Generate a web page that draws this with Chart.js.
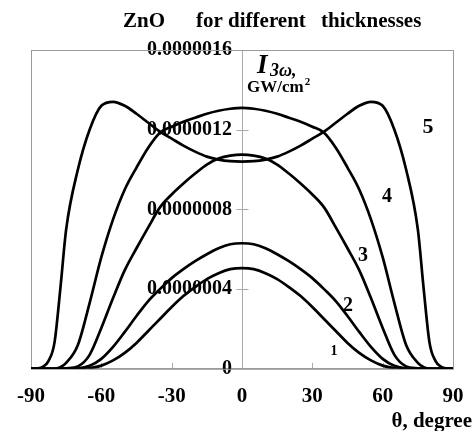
<!DOCTYPE html>
<html>
<head>
<meta charset="utf-8">
<script src="https://cdn.jsdelivr.net/npm/chart.js@4"></script>
<style>
  html, body { margin: 0; padding: 0; background: #fff; }
  #wrap { width: 475px; height: 431px; }
</style>
</head>
<body>
<div id="wrap"><canvas id="thgChart"></canvas></div>
<script>
/* ─── DATA (I3ω in units of 1e-7 GW/cm²) ───────────────────── */
const THETA = [-90, -87.5, -85, -82.5, -80, -77.5, -75, -70, -65, -60, -55, -50, -45, -40, -35, -30, -25, -20, -15, -10, -5,
  0, 5, 10, 15, 20, 25, 30, 35, 40, 45, 50, 55, 60, 65, 70, 75, 77.5, 80, 82.5, 85, 87.5, 90];

const CURVE_1 = [0, 0, 0, 0, 0, 0, 0, 0.005, 0.04, 0.16, 0.42, 0.8, 1.3, 1.9, 2.5, 3.1, 3.65, 4.1, 4.5, 4.8, 5.0,
  5.05, 5.0, 4.8, 4.5, 4.1, 3.65, 3.1, 2.5, 1.9, 1.3, 0.8, 0.42, 0.16, 0.04, 0.005, 0, 0, 0, 0, 0, 0, 0];
const CURVE_2 = [0, 0, 0, 0, 0, 0, 0, 0.02, 0.15, 0.5, 1.1, 1.85, 2.65, 3.4, 4.0, 4.55, 5.0, 5.4, 5.75, 6.05, 6.25,
  6.3, 6.25, 6.05, 5.75, 5.4, 5.0, 4.55, 4.0, 3.4, 2.65, 1.85, 1.1, 0.5, 0.15, 0.02, 0, 0, 0, 0, 0, 0, 0];
const CURVE_3 = [0, 0, 0, 0, 0, 0, 0.02, 0.12, 0.7, 2.05, 3.55, 4.95, 6.05, 7.1, 8.1, 8.75, 9.3, 9.8, 10.25, 10.55, 10.7,
  10.75, 10.7, 10.55, 10.25, 9.8, 9.3, 8.75, 8.1, 7.1, 6.05, 4.95, 3.55, 2.05, 0.7, 0.12, 0.02, 0, 0, 0, 0, 0, 0];
const CURVE_4 = [0, 0, 0, 0, 0, 0.08, 0.3, 1.2, 3.3, 5.6, 7.5, 9.0, 10.1, 11.1, 11.85, 12.15, 12.4, 12.6, 12.8, 12.95, 13.05,
  13.1, 13.05, 12.95, 12.8, 12.6, 12.4, 12.15, 11.85, 11.1, 10.1, 9.0, 7.5, 5.6, 3.3, 1.2, 0.3, 0.08, 0, 0, 0, 0, 0];
const CURVE_5 = [0, 0.02, 0.1, 0.4, 1.3, 4.0, 7.0, 10.0, 12.0, 13.2, 13.4, 13.2, 12.8, 12.35, 11.9, 11.55, 11.2, 10.9, 10.65, 10.5, 10.42,
  10.4, 10.42, 10.5, 10.65, 10.9, 11.2, 11.55, 11.9, 12.35, 12.8, 13.2, 13.4, 13.2, 12.0, 10.0, 7.0, 4.0, 1.3, 0.4, 0.1, 0.02, 0];

// trailing spaces keep the labels clear of the centre axis
const Y_TICK_LABELS = ['0  ', '0.0000004  ', '0.0000008  ', '0.0000012  ', '0.0000016  '];
const X_TICKS = [-90, -60, -30, 0, 30, 60, 90];

// curve numbers, placed in data coordinates (θ, value)
const CURVE_NAMES  = ['1', '2', '3', '4', '5'];
const NAME_THETA   = [39.2, 45.2, 51.6, 61.8, 79.3];
const NAME_VALUE   = [0.85, 3.16, 5.67, 8.63, 12.1];

const SERIF = "'Liberation Serif', 'Times New Roman', serif";

/* ─── Decorations: frame, tick marks, texts ─────────────────── */
const decor = {
  id: 'decor',
  beforeDatasetsDraw(chart) {
    const { ctx, chartArea: a, scales: { x, y } } = chart;
    const x0 = Math.round(x.getPixelForValue(0)) + .5;
    ctx.save();
    ctx.strokeStyle = '#9a9a9a';
    ctx.lineWidth = 1;
    ctx.strokeRect(a.left + .5, a.top + .5, a.right - a.left, a.bottom - a.top);
    ctx.strokeStyle = '#aaa';
    ctx.beginPath();
    [4, 8, 12].forEach(v => {
      const py = Math.round(y.getPixelForValue(v)) + .5;
      ctx.moveTo(x0 - 6, py); ctx.lineTo(x0 + 6, py);
    });
    [-60, -30, 30, 60].forEach(t => {
      const px = Math.round(x.getPixelForValue(t)) + .5;
      ctx.moveTo(px, a.bottom); ctx.lineTo(px, a.bottom - 6);
    });
    ctx.stroke();
    ctx.restore();
  },
  afterDraw(chart) {
    const { ctx, scales: { x, y } } = chart;
    ctx.save();
    ctx.fillStyle = '#000';
    ctx.textBaseline = 'alphabetic';
    ctx.textAlign = 'left';

    // title
    ctx.font = `bold 21px ${SERIF}`;
    ctx.fillText('ZnO', 123, 27);
    ctx.fillText('for different', 196, 27);
    ctx.fillText('thicknesses', 321, 27);

    // y axis title
    ctx.font = `italic bold 27px ${SERIF}`;
    ctx.fillText('I', 257, 73);
    ctx.font = `italic bold 18px ${SERIF}`;
    ctx.fillText('3ω,', 270, 76);
    ctx.font = `bold 17px ${SERIF}`;
    ctx.fillText('GW/cm', 247, 92);
    const w = ctx.measureText('GW/cm').width;
    ctx.font = `bold 11px ${SERIF}`;
    ctx.fillText('2', 247 + w + 1, 85);

    // x axis title
    ctx.font = `bold 21px ${SERIF}`;
    ctx.textAlign = 'right';
    ctx.fillText('θ, degree', 472, 427);

    // curve numbers
    ctx.textAlign = 'center';
    ctx.textBaseline = 'middle';
    CURVE_NAMES.forEach((n, i) => {
      const size = n === '1' ? 14 : n === '5' ? 22 : 20;
      ctx.font = `bold ${size}px ${SERIF}`;
      ctx.fillText(n, x.getPixelForValue(NAME_THETA[i]), y.getPixelForValue(NAME_VALUE[i]));
    });
    ctx.restore();
  },
};

const toPts = arr => THETA.map((t, i) => ({ x: t, y: arr[i] }));
const line = arr => ({
  data: toPts(arr),
  borderColor: '#000', borderWidth: 2.7,
  pointRadius: 0, fill: false, cubicInterpolationMode: 'monotone',
});

Chart.defaults.color = '#000';

new Chart(document.getElementById('thgChart'), {
  type: 'line',
  data: { datasets: [CURVE_1, CURVE_2, CURVE_3, CURVE_4, CURVE_5].map(line) },
  options: {
    responsive: true, maintainAspectRatio: false, animation: false,
    layout: { padding: { left: 31, right: 22, top: 50, bottom: 22 } },
    plugins: { legend: { display: false }, tooltip: { enabled: false }, title: { display: false } },
    scales: {
      x: {
        type: 'linear', position: 'bottom', min: -90, max: 90,
        afterBuildTicks: s => { s.ticks = X_TICKS.map(v => ({ value: v })); },
        grid: { display: true, drawOnChartArea: false, drawTicks: true, tickLength: 15, tickColor: 'rgba(0,0,0,0)' },
        border: { display: true, color: '#9a9a9a' },
        ticks: { font: { family: SERIF, size: 21, weight: 'bold' }, padding: 0, maxRotation: 0 },
      },
      y: {
        type: 'linear', position: { x: 0 }, min: 0, max: 16,
        ticks: {
          stepSize: 4,
          font: { family: SERIF, size: 20, weight: 'bold' },
          callback: (v, i) => Y_TICK_LABELS[i],
        },
        grid: { display: true, drawOnChartArea: false, drawTicks: false },
        border: { display: true, color: '#aaa' },
      },
    },
  },
  plugins: [decor],
});
</script>
</body>
</html>
